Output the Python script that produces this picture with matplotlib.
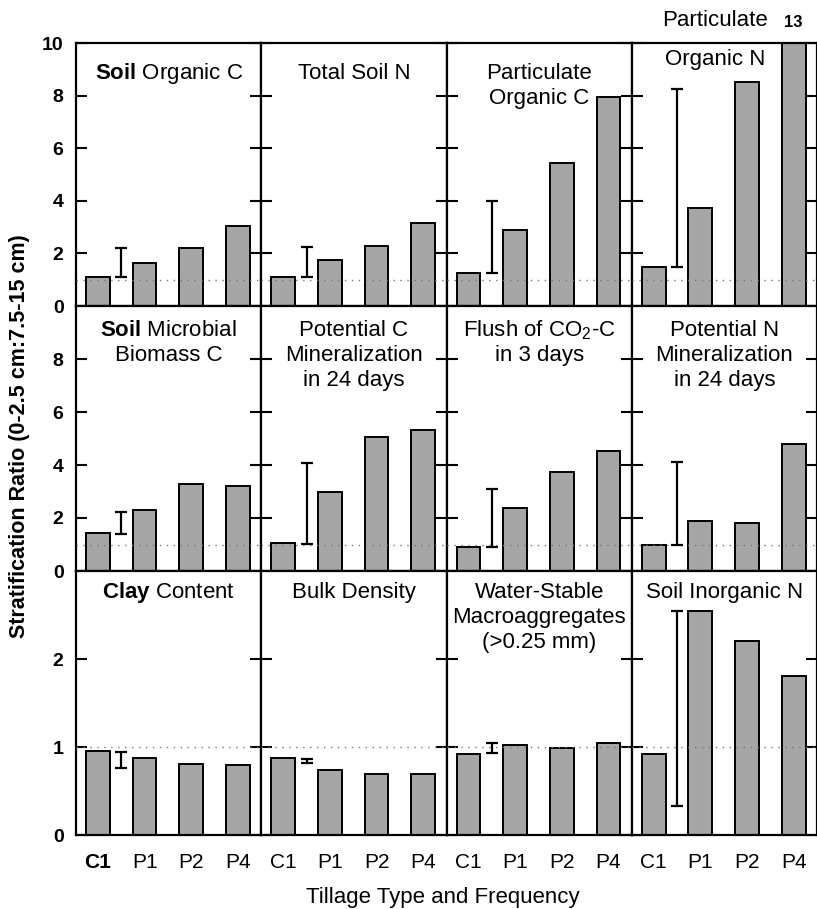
import matplotlib
matplotlib.use('Agg')
import matplotlib.pyplot as plt

plt.rcParams['font.family'] = ['Liberation Sans', 'DejaVu Sans']
plt.rcParams['mathtext.fontset'] = 'custom'
plt.rcParams['mathtext.rm'] = 'Liberation Sans'
plt.rcParams['mathtext.it'] = 'Liberation Sans:italic'
plt.rcParams['mathtext.bf'] = 'Liberation Sans:bold'

# tillage treatments
tillage = ['C1', 'P1', 'P2', 'P4']

# stratification ratios, one list per panel
soil_org_c = [1.11, 1.62, 2.22, 3.03]
total_soil_n = [1.11, 1.75, 2.29, 3.14]
part_org_c = [1.27, 2.89, 5.44, 7.95]
part_org_n = [1.47, 3.71, 8.52, 13.0]
microbial_c = [1.43, 2.31, 3.28, 3.19]
pot_c_min = [1.05, 2.98, 5.05, 5.31]
flush_co2 = [0.90, 2.36, 3.72, 4.52]
pot_n_min = [0.98, 1.88, 1.81, 4.78]
clay = [0.95, 0.88, 0.81, 0.80]
bulk_density = [0.875, 0.74, 0.69, 0.69]
water_stable = [0.925, 1.02, 0.99, 1.04]
inorganic_n = [0.925, 2.55, 2.20, 1.81]

# LSD bars (low, high)
lsd = [(1.09, 2.19), (1.09, 2.23), (1.27, 3.99), (1.47, 8.24),
       (1.39, 2.22), (1.02, 4.06), (0.90, 3.09), (0.98, 4.10),
       (0.76, 0.94), (0.82, 0.865), (0.93, 1.05), (0.33, 2.55)]

titles = [r'$\mathbf{Soil}$ Organic C', 'Total Soil N', 'Particulate\nOrganic C', 'Organic N',
          r'$\mathbf{Soil}$ Microbial' + '\nBiomass C', 'Potential C\nMineralization\nin 24 days',
          'Flush of CO$_2$-C\nin 3 days', 'Potential N\nMineralization\nin 24 days',
          r'$\mathbf{Clay}$ Content', 'Bulk Density', 'Water-Stable\nMacroaggregates\n(>0.25 mm)',
          'Soil Inorganic N']

panels = [soil_org_c, total_soil_n, part_org_c, part_org_n,
          microbial_c, pot_c_min, flush_co2, pot_n_min,
          clay, bulk_density, water_stable, inorganic_n]

row_ylim = [10, 10, 3]
row_ticks = [[0, 2, 4, 6, 8, 10], [0, 2, 4, 6, 8], [0, 1, 2]]
title_drop = [36, 30, 27]  # px below panel top to first baseline
line_gap = 25

W, H = 817, 909
left, right = 76, 817
row_edges = [43, 306, 571, 835]
col_w = (right - left) / 4

fig = plt.figure(figsize=(W / 100, H / 100), dpi=100)

x = range(len(tillage))
for i, vals in enumerate(panels):
    r, c = divmod(i, 4)
    top, bot = row_edges[r], row_edges[r + 1]
    ax = fig.add_axes([(left + c * col_w) / W, 1 - bot / H, col_w / W, (bot - top) / H])

    ax.bar(x, vals, width=0.51, color='#a6a6a6', edgecolor='black', linewidth=1.4, zorder=2)
    ax.axhline(1, color='#777777', lw=1, ls=(0, (1, 4)), zorder=3)
    lo, hi = lsd[i]
    ax.errorbar([0.5], [lo], yerr=[[0], [hi - lo]], fmt='none', ecolor='black',
                elinewidth=1.6, capsize=4, capthick=1.6, zorder=4)

    ax.set_xlim(-0.47, 3.5)
    ax.set_ylim(0, row_ylim[r])
    ax.set_yticks(row_ticks[r])
    ax.set_xticks(list(x))
    ax.tick_params(axis='y', direction='in', left=True, right=True, length=8, width=1.5,
                   labelsize=14, pad=9)
    ax.tick_params(axis='x', length=0, labelsize=15, pad=13)
    for s in ax.spines.values():
        s.set_linewidth(1.6)

    if c == 0:
        for lab in ax.get_yticklabels():
            lab.set_fontweight('bold')
    else:
        ax.tick_params(labelleft=False)

    if r == 2:
        ax.set_xticklabels(tillage)
        if c == 0:
            ax.get_xticklabels()[0].set_fontweight('bold')
    else:
        ax.tick_params(labelbottom=False)

    # titles, one line at a time
    cx = 0.45 if i == 3 else 0.5
    drop = 22 if i == 3 else title_drop[r]
    for k, line in enumerate(titles[i].split('\n')):
        ax.annotate(line, xy=(cx, 1), xycoords='axes fraction',
                    xytext=(0, -(drop + k * line_gap)), textcoords='offset pixels',
                    ha='center', va='baseline', fontsize=16)

    if i == 3:
        ax.annotate('Particulate', xy=(cx, 1), xycoords='axes fraction',
                    xytext=(0, 17), textcoords='offset pixels',
                    ha='center', va='baseline', fontsize=16, annotation_clip=False)
        ax.annotate(f'{vals[3]:.0f}', xy=(3, row_ylim[r]), xycoords='data',
                    xytext=(0, 16), textcoords='offset pixels',
                    ha='center', va='baseline', fontsize=12, fontweight='bold',
                    annotation_clip=False)

fig.text(20 / W, 1 - 436 / H, 'Stratification Ratio (0-2.5 cm:7.5-15 cm)',
         rotation=90, ha='center', va='center', fontsize=15.5, fontweight='bold')
fig.text(443 / W, 1 - 897 / H, 'Tillage Type and Frequency',
         ha='center', va='center', fontsize=16)

fig.savefig('out.png', dpi=100)
